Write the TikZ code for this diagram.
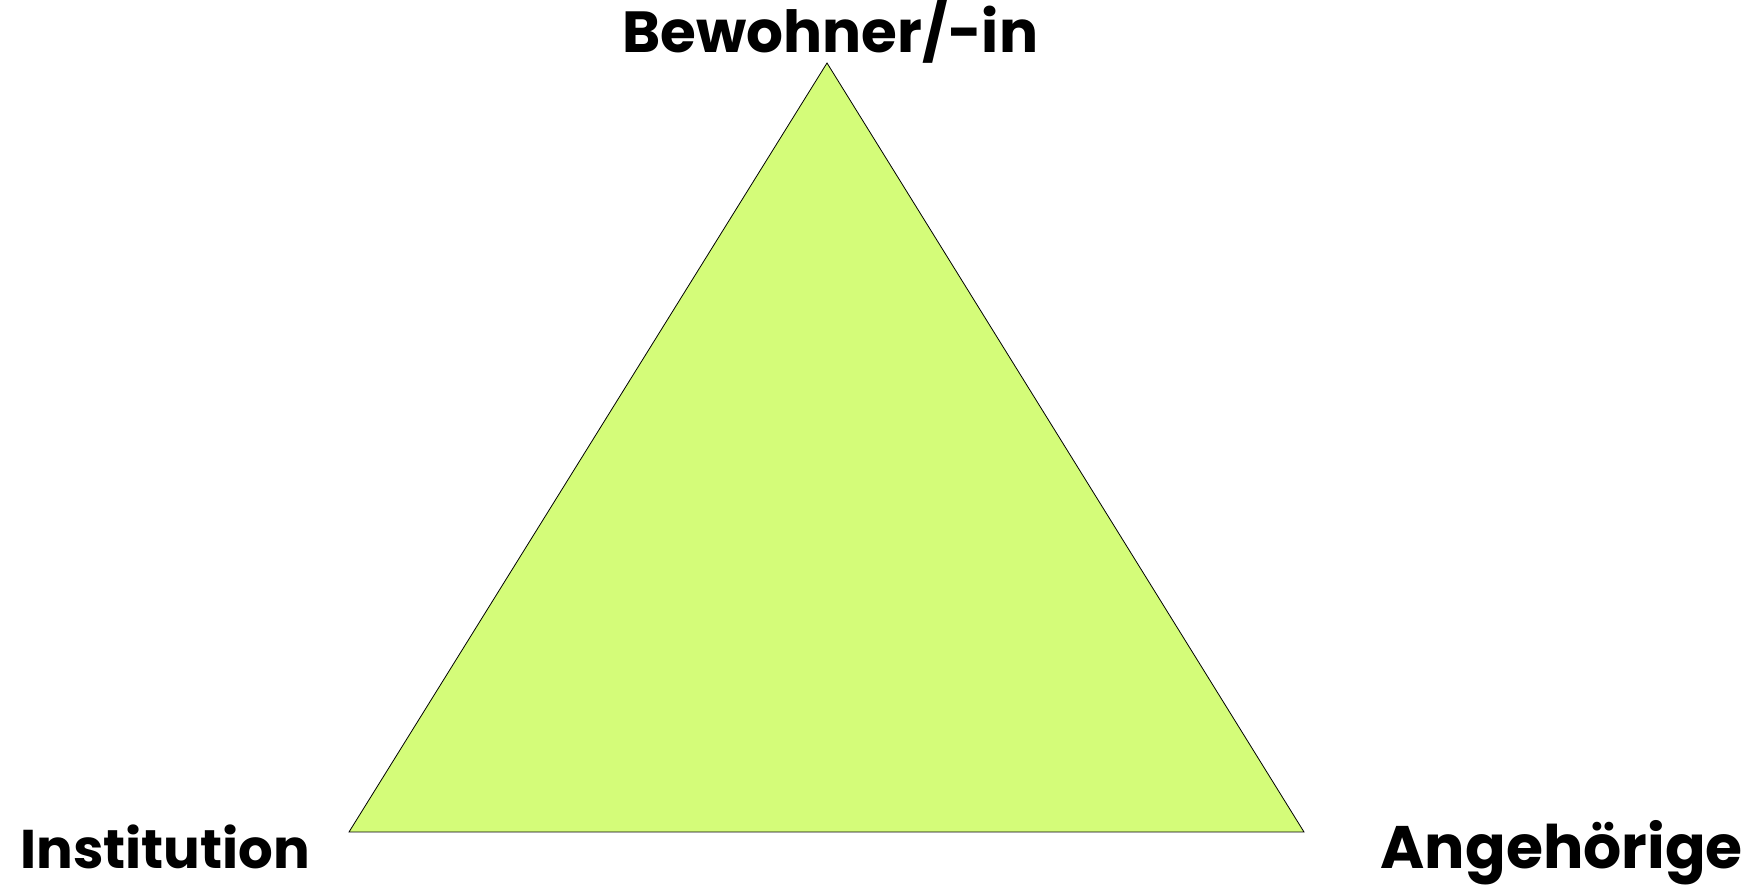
\documentclass[tikz,border=0pt]{standalone}
\usepackage{fontspec}
\setmainfont{Poppins}[BoldFont={Poppins Bold}]
\definecolor{trifill}{HTML}{D4FC79}
\begin{document}
\begin{tikzpicture}[x=1pt,y=1pt,
  lbl/.style={inner sep=0pt},
  tri/.style={draw=black,line width=0.8pt,fill=trifill,line join=miter}]
\useasboundingbox (0,0) rectangle (1760,888);
\coordinate (top) at (827,825);
\coordinate (bl) at (349,56);
\coordinate (br) at (1304,56);
\filldraw[tri] (top) -- (bl) -- (br) -- cycle;
\node[lbl,anchor=base west,font=\fontsize{58}{60}\selectfont\bfseries] (bew) at (622,835) {Bewohner/-in};
\node[lbl,anchor=base west,font=\fontsize{54.5}{58}\selectfont\bfseries] (inst) at (20,19) {Institution};
\node[lbl,anchor=base east,font=\fontsize{60}{64}\selectfont\bfseries] (ang) at (1743,19) {Angehörige};
\end{tikzpicture}
\end{document}
